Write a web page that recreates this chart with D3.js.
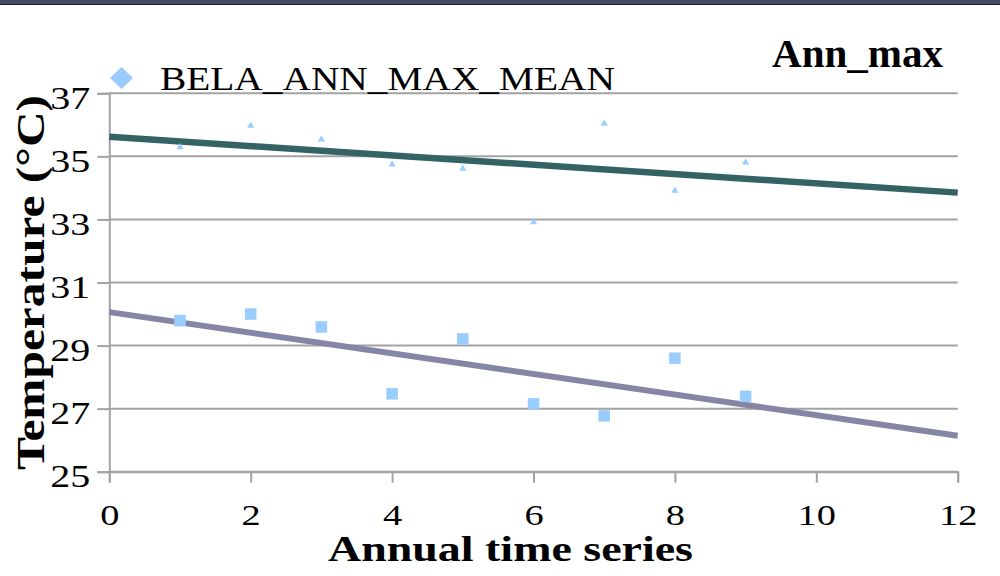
<!DOCTYPE html>
<html><head><meta charset="utf-8">
<script src="https://cdn.jsdelivr.net/npm/d3@7"></script>
<style>html,body{margin:0;padding:0;background:#fff;}svg{display:block;}</style>
</head><body>
<svg id="chart" width="1000" height="576"></svg>
<script>
// ---- data ----
const years = [1, 2, 3, 4, 5, 6, 7, 8, 9];
const annMaxTri = [35.29, 35.97, 35.54, 34.74, 34.61, 32.91, 36.04, 33.91, 34.81];
const annMaxSq  = [29.79, 30.00, 29.59, 27.47, 29.21, 27.15, 26.77, 28.60, 27.39];
const trendX = [0, 12];
const trendTri = [35.62, 33.85];
const trendSq  = [30.06, 26.14];
const xTicks = [0, 2, 4, 6, 8, 10, 12];
const yTicks = [25, 27, 29, 31, 33, 35, 37];
const legendLabel = "BELA_ANN_MAX_MEAN";
const chartTitle = "Ann_max";
const xTitle = "Annual time series";
const yTitle = "Temperature (°C)";

const svg = d3.select("#chart");
const FONT = "'Liberation Serif','Times New Roman',serif";
const W = 1000;

// top dark bar
svg.append("rect").attr("x",0).attr("y",0).attr("width",W).attr("height",4).attr("fill","#474a60");
svg.append("rect").attr("x",0).attr("y",4).attr("width",W).attr("height",1).attr("fill","#1e1e28");

const x = d3.scaleLinear().domain([0,12]).range([109.3, 957.7]);
const y = d3.scaleLinear().domain([25,37]).range([471.7, 93.3]);

// gridlines
svg.append("g").selectAll("line").data(yTicks).join("line")
  .attr("x1", x(0)).attr("x2", x(12))
  .attr("y1", d=>y(d)).attr("y2", d=>y(d))
  .attr("stroke","#a3a3a3").attr("stroke-width",2);

// y axis
const gy = svg.append("g").attr("transform",`translate(${x(0)},0)`)
  .call(d3.axisLeft(y).tickValues(yTicks).tickSize(12).tickFormat(d3.format("d")));
gy.select(".domain").attr("stroke","#a3a3a3").attr("stroke-width",2);
gy.selectAll(".tick line").attr("stroke","#a3a3a3").attr("stroke-width",2);
gy.selectAll(".tick text")
  .attr("x",0).attr("dy",null).attr("y",null)
  .attr("transform","translate(-19,15) scale(1.25,1)")
  .attr("text-anchor","end")
  .attr("font-family",FONT).attr("font-size",32).attr("fill","#000");

// x axis
const gx = svg.append("g").attr("transform",`translate(0,${y(25)})`)
  .call(d3.axisBottom(x).tickValues(xTicks).tickSize(11).tickFormat(d3.format("d")));
gx.select(".domain").attr("stroke","#a3a3a3").attr("stroke-width",2);
gx.selectAll(".tick line").attr("stroke","#a3a3a3").attr("stroke-width",2);
gx.selectAll(".tick text")
  .attr("y",0).attr("dy",null)
  .attr("transform","translate(0,53) scale(1.28,1)")
  .attr("text-anchor","middle")
  .attr("font-family",FONT).attr("font-size",30).attr("fill","#000");

// trend lines
const line = d3.line().x(d=>x(d[0])).y(d=>y(d[1]));
svg.append("path").datum(trendX.map((v,i)=>[v,trendSq[i]]))
  .attr("d",line).attr("fill","none").attr("stroke","#8585a5").attr("stroke-width",6);
svg.append("path").datum(trendX.map((v,i)=>[v,trendTri[i]]))
  .attr("d",line).attr("fill","none").attr("stroke","#346364").attr("stroke-width",6.5);

// square markers
const sq = 11.5;
svg.append("g").selectAll("rect").data(years.map((v,i)=>[v,annMaxSq[i]])).join("rect")
  .attr("x",d=>x(d[0])-sq/2).attr("y",d=>y(d[1])-sq/2)
  .attr("width",sq).attr("height",sq).attr("fill","#99ccff");

// triangle markers
svg.append("g").selectAll("path").data(years.map((v,i)=>[v,annMaxTri[i]])).join("path")
  .attr("d", d3.symbol().type(d3.symbolTriangle).size(22))
  .attr("transform",d=>`translate(${x(d[0])},${y(d[1])})`)
  .attr("fill","#99ccff");

// legend
const dp = d3.path();
dp.moveTo(121.5,67); dp.lineTo(133,78); dp.lineTo(121.5,89); dp.lineTo(110,78); dp.closePath();
svg.append("path").attr("d",dp.toString()).attr("fill","#99ccff");
svg.append("text").attr("x",160).attr("y",90)
  .attr("font-family",FONT).attr("font-size",33)
  .attr("textLength",455).attr("lengthAdjust","spacingAndGlyphs")
  .text(legendLabel);

// title
svg.append("text").attr("x",772).attr("y",67)
  .attr("font-family",FONT).attr("font-size",40).attr("font-weight","bold")
  .attr("textLength",171).attr("lengthAdjust","spacingAndGlyphs")
  .text(chartTitle);

// axis titles
svg.append("text").attr("x",328).attr("y",561)
  .attr("font-family",FONT).attr("font-size",35).attr("font-weight","bold")
  .attr("textLength",365).attr("lengthAdjust","spacingAndGlyphs")
  .text(xTitle);
svg.append("text").attr("transform","translate(44,470) rotate(-90)")
  .attr("x",0).attr("y",0)
  .attr("font-family",FONT).attr("font-size",41).attr("font-weight","bold")
  .attr("textLength",375).attr("lengthAdjust","spacingAndGlyphs")
  .text(yTitle);
</script>
</body></html>
